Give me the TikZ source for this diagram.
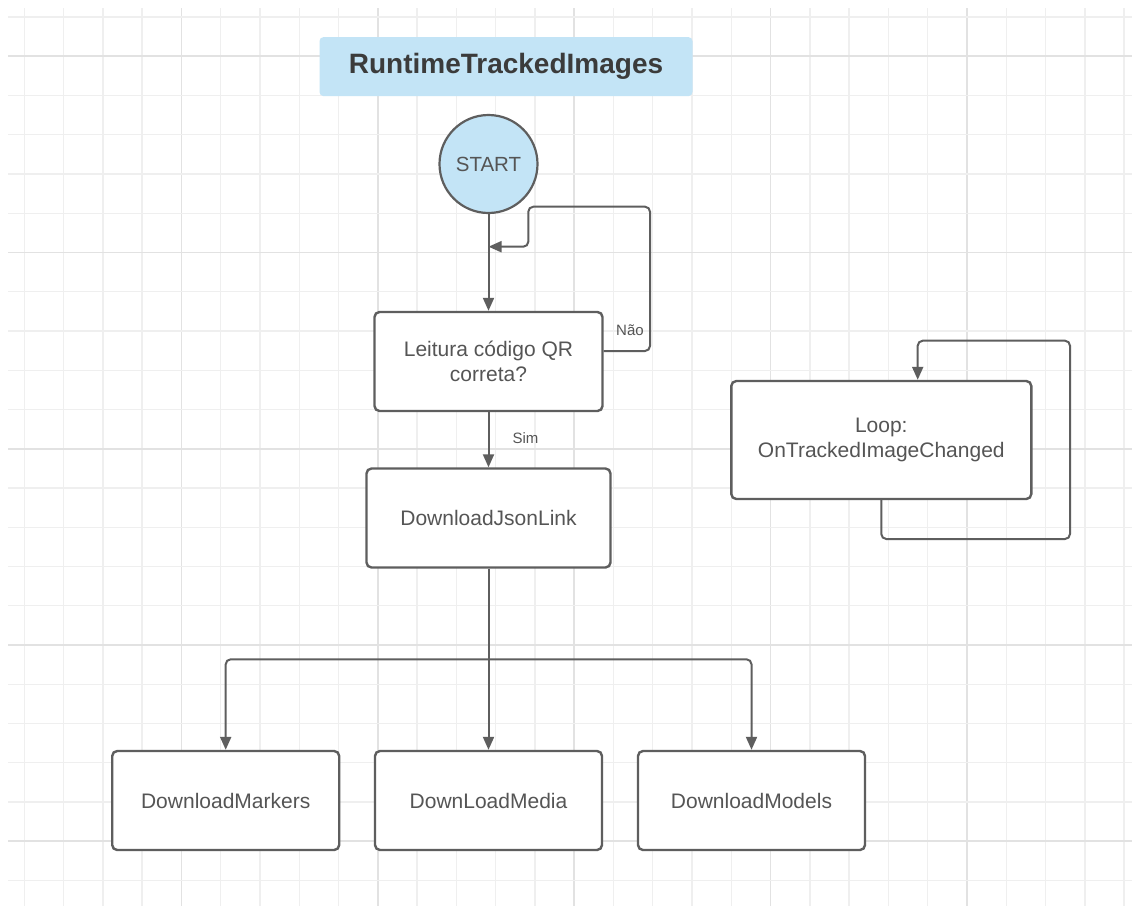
\documentclass[tikz,border=0pt]{standalone}
\usepackage{fontspec}
\setmainfont{Liberation Sans}
\usetikzlibrary{arrows.meta}
\definecolor{gridlight}{HTML}{EFEFEF}
\definecolor{griddark}{HTML}{E2E2E2}
\definecolor{skyfill}{HTML}{C3E4F6}
\definecolor{edge}{HTML}{5E5E5E}
\definecolor{ink}{HTML}{555555}
\definecolor{titleink}{HTML}{3B3B3B}

\begin{document}
\begin{tikzpicture}[x=1pt,y=-1pt,
  box/.style={draw=edge, line width=2.4pt, rounded corners=5pt, fill=white,
    text=ink, font=\fontsize{21}{25}\selectfont, align=center, inner sep=0pt},
  flow/.style={draw=edge, line width=2pt, rounded corners=5pt,
    -{Triangle[length=13pt,width=11pt]}},
  plainline/.style={draw=edge, line width=2pt},
  lbl/.style={text=ink, font=\fontsize{15}{17}\selectfont, inner sep=0pt}]

\useasboundingbox (0,0) rectangle (1132,906);
\fill[white] (0,0) rectangle (1132,906);

% background grid, every fifth line slightly darker
\foreach \i in {0,...,28}{
  \pgfmathsetmacro\gx{24.3+39.28*\i}
  \pgfmathtruncatemacro\m{mod(\i,5)}
  \ifnum\m=4
    \draw[griddark,line width=1.6pt] (\gx,8) -- (\gx,906);
  \else
    \draw[gridlight,line width=1.4pt] (\gx,8) -- (\gx,906);
  \fi
}
\foreach \j in {0,...,22}{
  \pgfmathsetmacro\gy{17+39.25*\j}
  \pgfmathtruncatemacro\m{mod(\j,5)}
  \ifnum\m=1
    \draw[griddark,line width=1.6pt] (8,\gy) -- (1132,\gy);
  \else
    \draw[gridlight,line width=1.4pt] (8,\gy) -- (1132,\gy);
  \fi
}

% title
\node[fill=skyfill, rounded corners=4pt, minimum width=373pt, minimum height=59pt,
  inner sep=0pt, text=titleink, font=\bfseries\fontsize{28}{32}\selectfont]
  (title) at (506,66.6) {RuntimeTrackedImages};

% main flow
\node[circle, draw=edge, line width=2.2pt, fill=skyfill, minimum size=98pt,
  inner sep=0pt, text=ink, font=\fontsize{20.5}{24}\selectfont]
  (start) at (488.5,164) {START};
\node[box, minimum width=228pt, minimum height=99pt] (dec) at (488.5,361.5)
  {Leitura código QR\\correta?};
\node[box, minimum width=244pt, minimum height=99pt] (json) at (488.5,518)
  {DownloadJsonLink};
\node[box, minimum width=227pt, minimum height=99pt] (markers) at (225.7,800.5)
  {DownloadMarkers};
\node[box, minimum width=227pt, minimum height=99pt] (media) at (488.5,800.5)
  {DownLoadMedia};
\node[box, minimum width=227pt, minimum height=99pt] (models) at (751.5,800.5)
  {DownloadModels};

% independent loop
\node[box, minimum width=300pt, minimum height=118pt] (loopbox) at (881.3,440)
  {Loop:\\OnTrackedImageChanged};

% connectors
\coordinate (retry) at (488.5,246.7);
\coordinate (split) at (488.5,659.3);

\draw[flow] (start) -- (dec);
\draw[flow] ([yshift=10.5pt]dec.east) -- (650,351) -- (650,206.7)
  -- (528.3,206.7) -- (528.3,246.7) -- (retry);
\node[lbl] (nao) at (630,330) {Não};

\draw[flow] (dec) -- (json);
\node[lbl] (sim) at (525.5,438) {Sim};

\draw[flow] (json) -- (media);
\draw[flow] (split) -| (markers);
\draw[flow] (split) -| (models);

\draw[flow] (loopbox.south) -- (881.3,539) -- (1070,539) -- (1070,340.7)
  -- (917.7,340.7) -- ([xshift=36.4pt]loopbox.north);
\end{tikzpicture}
\end{document}
